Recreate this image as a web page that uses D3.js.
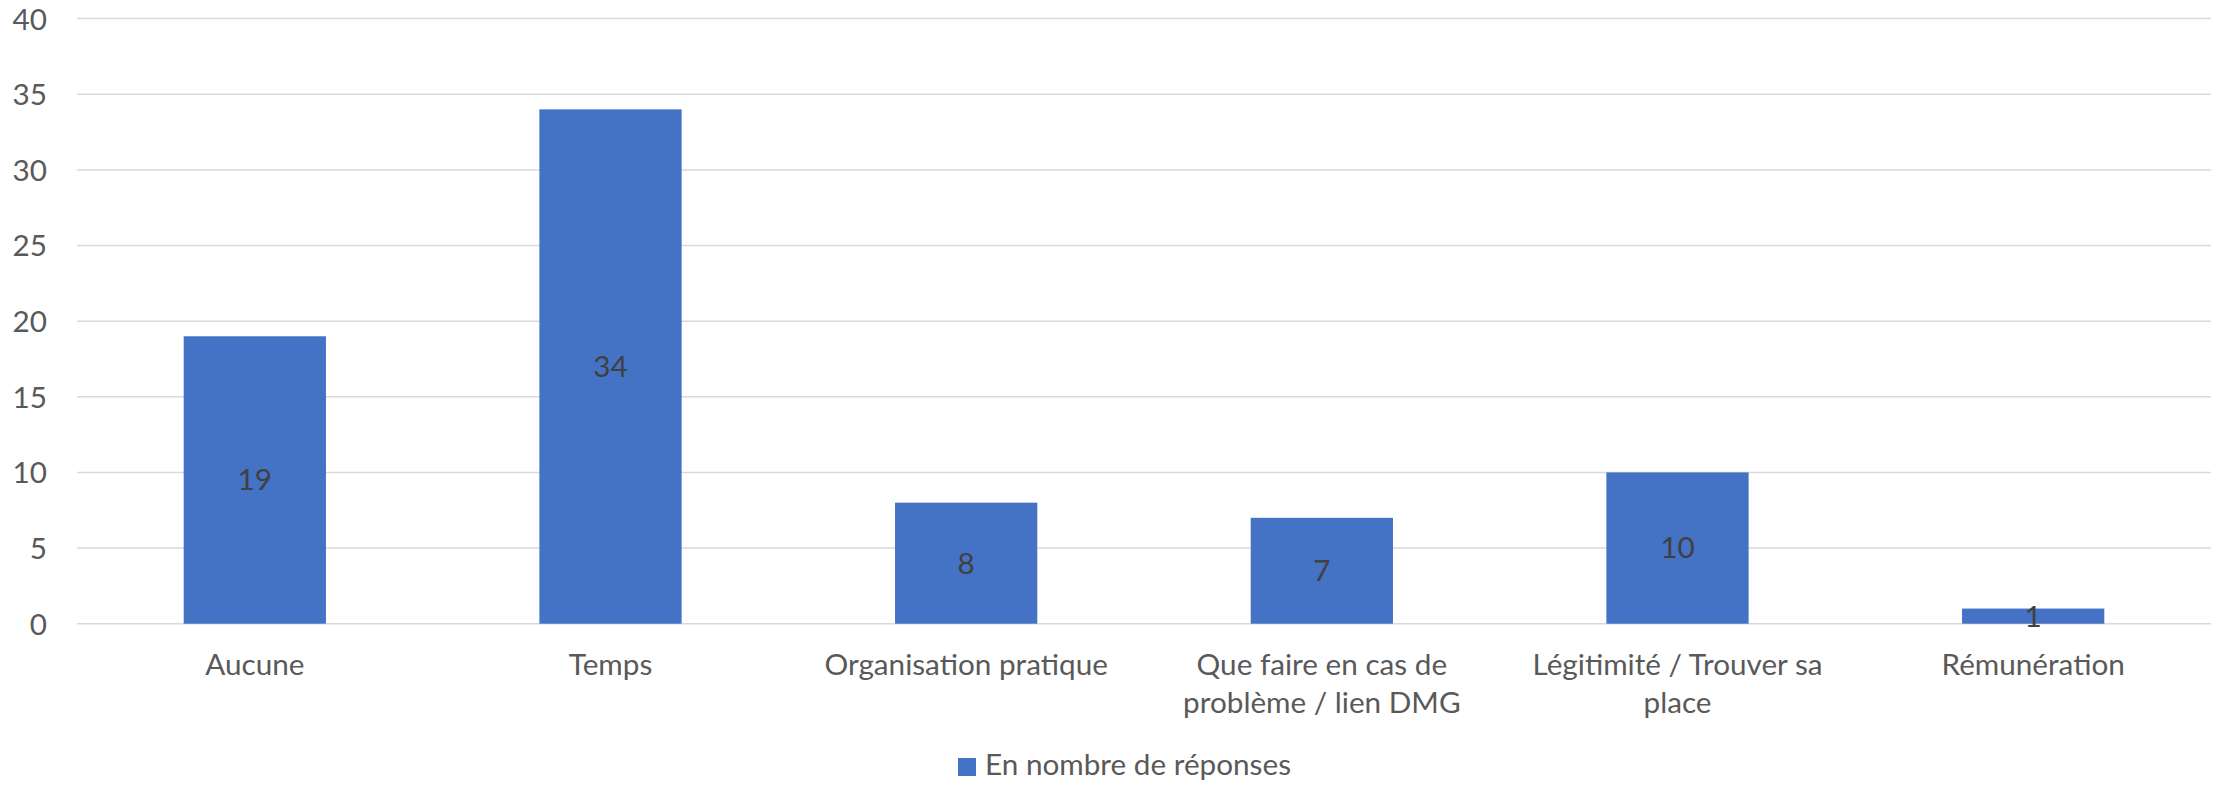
<!DOCTYPE html>
<html>
<head>
<meta charset="utf-8">
<script src="https://cdn.jsdelivr.net/npm/d3@7"></script>
<style>
  html, body { margin: 0; padding: 0; background: #fff; }
  svg { display: block; }
</style>
</head>
<body>
<svg id="chart" width="2221" height="785"></svg>
<script>
const categories = ["Aucune", "Temps", "Organisation pratique", "Que faire en cas de problème / lien DMG", "Légitimité / Trouver sa place", "Rémunération"];
const values = [19, 34, 8, 7, 10, 1];
const yTicks = [0, 5, 10, 15, 20, 25, 30, 35, 40];
const seriesName = "En nombre de réponses";

const W = 2221, H = 785;
const margin = { left: 77, right: 10, top: 18.6, bottom: 161.3 };
const FONT = "Lato, 'Open Sans', sans-serif";
const FS = 29.7;

const svg = d3.select("#chart");
const x = d3.scaleBand().domain(categories).range([margin.left, W - margin.right]).paddingInner(0.6).paddingOuter(0.3);
const y = d3.scaleLinear().domain([0, 40]).range([H - margin.bottom, margin.top]);

// gridlines
svg.append("g").selectAll("line").data(yTicks).join("line")
  .attr("x1", margin.left).attr("x2", W - margin.right)
  .attr("y1", d => y(d)).attr("y2", d => y(d))
  .attr("stroke", "#D9D9D9").attr("stroke-width", 1.5);

// y axis labels
const yAxis = d3.axisLeft(y).tickValues(yTicks).tickSize(0).tickPadding(0);
const gy = svg.append("g").attr("transform", `translate(47,0)`).call(yAxis);
gy.select(".domain").remove();
gy.selectAll("text").attr("font-family", FONT).attr("font-size", FS).attr("fill", "#595959").attr("dy", "0.35em");

// bars
svg.append("g").selectAll("rect").data(values).join("rect")
  .attr("x", (d, i) => x(categories[i]))
  .attr("width", x.bandwidth())
  .attr("y", d => y(d))
  .attr("height", d => y(0) - y(d))
  .attr("fill", "#4472C4");

// data labels
svg.append("g").selectAll("text").data(values).join("text")
  .attr("x", (d, i) => x(categories[i]) + x.bandwidth() / 2)
  .attr("y", d => (y(d) + y(0)) / 2)
  .attr("dy", "0.35em")
  .attr("text-anchor", "middle")
  .attr("font-family", FONT).attr("font-size", FS).attr("fill", "#404040")
  .text(d => d);

// x axis labels with wrapping
const xAxis = d3.axisBottom(x).tickSize(0).tickPadding(0);
const gx = svg.append("g").attr("transform", `translate(0,${y(0)})`).call(xAxis);
gx.select(".domain").remove();
gx.selectAll("text")
  .attr("font-family", FONT).attr("font-size", FS).attr("fill", "#595959")
  .attr("y", 51).attr("dy", 0)
  .each(function(d) {
    const t = d3.select(this);
    const words = d.split(" ");
    t.text(null);
    const maxW = 335;
    const lineH = 38;
    let line = [];
    let lineNo = 0;
    let tspan = t.append("tspan").attr("x", 0).attr("y", 51);
    for (const w of words) {
      line.push(w);
      tspan.text(line.join(" "));
      if (tspan.node().getComputedTextLength() > maxW && line.length > 1) {
        line.pop();
        tspan.text(line.join(" "));
        line = [w];
        lineNo++;
        tspan = t.append("tspan").attr("x", 0).attr("y", 51 + lineNo * lineH).text(w);
      }
    }
  });

// legend
const lg = svg.append("g").attr("transform", "translate(958,758)");
lg.append("rect").attr("width", 18).attr("height", 18).attr("fill", "#4472C4");
lg.append("text").attr("x", 27).attr("y", 17)
  .attr("font-family", FONT).attr("font-size", FS).attr("fill", "#595959")
  .text(seriesName);
</script>
</body>
</html>
